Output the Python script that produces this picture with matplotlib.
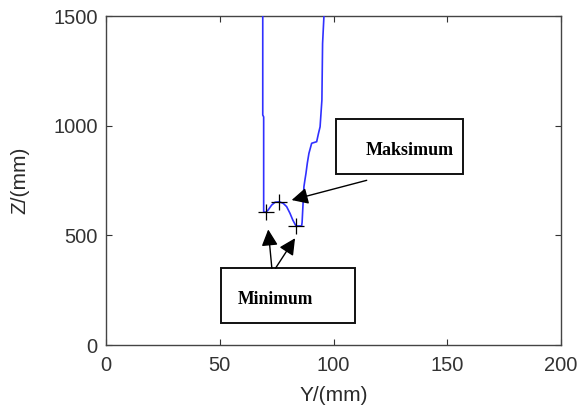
import matplotlib
matplotlib.use("Agg")
import matplotlib.pyplot as plt
from matplotlib.patches import Rectangle

# Profile data (Y in mm, Z in mm)
profile_y = [68.9, 68.9, 69.3, 69.3, 70.3, 71.3, 72.8, 74.3, 76.2, 77.9, 79.4, 80.9,
             82.1, 83.5, 86.0, 86.2, 86.4, 87.0, 87.4, 87.9, 88.5, 89.2, 90.4, 92.6,
             93.4, 94.1, 94.9, 95.2, 95.8]
profile_z = [1500, 1049, 1040, 608, 605, 616, 638, 651, 653, 646, 631, 600,
             570, 543, 543, 560, 601, 722, 750, 783, 830, 874, 920, 927,
             965, 995, 1117, 1375, 1500]

# Extremum markers
extrema_y = [70.3, 76.2, 83.5]
extrema_z = [605, 653, 543]

x_ticks = [0, 50, 100, 150, 200]
y_ticks = [0, 500, 1000, 1500]
x_label = "Y/(mm)"
y_label = "Z/(mm)"

max_label = "Maksimum"
min_label = "Minimum"

# Annotation geometry (data coordinates)
max_box = (101.1, 779, 56.0, 250)
min_box = (50.4, 99, 59.0, 251)
max_arrow_tail = (114.6, 751)
max_arrow_tip = (81.6, 661)
min_arrow_tails = [(72.9, 350), (74.5, 350)]
min_arrow_tips = [(71.3, 527), (83.1, 487)]

fig = plt.figure(figsize=(5.8, 4.12), dpi=100)
ax = fig.add_axes([0.1828, 0.1626, 0.9672 - 0.1828, 0.961 - 0.1626])

ax.plot(profile_y, profile_z, color="#3030ff", lw=1.2, zorder=3)
ax.plot(extrema_y, extrema_z, linestyle="none", marker="+", color="black",
        markersize=11, markeredgewidth=0.9, zorder=4)

ax.set_xlim(0, 200)
ax.set_ylim(0, 1500)
ax.set_xticks(x_ticks)
ax.set_yticks(y_ticks)

tick_font = dict(family=["Liberation Sans", "DejaVu Sans"], size=14.5, color="#2a2a2a")
ax.set_xticklabels([str(t) for t in x_ticks], **tick_font)
ax.set_yticklabels([str(t) for t in y_ticks], **tick_font)
ax.tick_params(direction="in", length=4, width=0.8, top=True, right=True,
               colors="#333333", pad=6)
ax.tick_params(axis="x", pad=8)
for sp in ax.spines.values():
    sp.set_color("#444444")
    sp.set_linewidth(1.0)

ax.set_xlabel(x_label, fontsize=15, family=["Liberation Sans", "DejaVu Sans"],
              color="#2a2a2a", labelpad=8)
ax.set_ylabel(y_label, fontsize=15, family=["Liberation Sans", "DejaVu Sans"],
              color="#2a2a2a", labelpad=17)

# Boxes
for (bx, by, bw, bh) in [max_box, min_box]:
    ax.add_patch(Rectangle((bx, by), bw, bh, fill=True, facecolor="white",
                           edgecolor="#111111", lw=1.4, zorder=5, clip_on=False))

ax.text(max_box[0] + max_box[2] * 0.235, max_box[1] + max_box[3] * 0.44, max_label,
        ha="left", va="center", fontsize=13, fontweight="bold",
        family=["Liberation Serif", "DejaVu Serif"], zorder=6)
ax.text(min_box[0] + min_box[2] * 0.125, min_box[1] + min_box[3] * 0.43, min_label,
        ha="left", va="center", fontsize=12.7, fontweight="bold",
        family=["Liberation Serif", "DejaVu Serif"], zorder=6)

arrow_props = dict(arrowstyle="-|>,head_length=0.9,head_width=0.45",
                   color="black", lw=1.0, shrinkA=0, shrinkB=0, mutation_scale=11)
ax.annotate("", xy=max_arrow_tip, xytext=max_arrow_tail, arrowprops=arrow_props,
            zorder=6)
for tail, tip in zip(min_arrow_tails, min_arrow_tips):
    ax.annotate("", xy=tip, xytext=tail, arrowprops=arrow_props, zorder=6)

fig.savefig("out.png", dpi=100)
